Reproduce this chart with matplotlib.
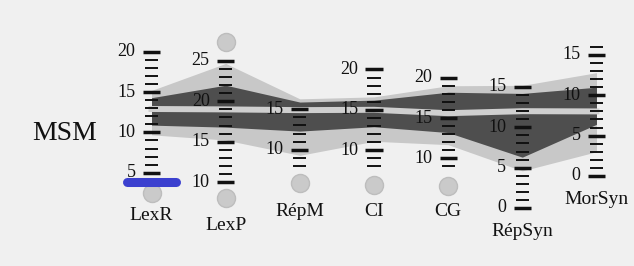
import matplotlib.pyplot as plt

tests = ['LexR', 'LexP', 'RépM', 'CI', 'CG', 'RépSyn', 'MorSyn']
# shift that puts each test's own scale onto the shared profile axis
offset = [0, -6.15, -2.14, -2.2, -3.22, 0.63, 4.6]
scale_lo = [5, 10, 8, 8, 9, 0, 0]
scale_hi = [20, 25, 15, 20, 20, 15, 16]

# norm bands, read in each test's own units
outer_hi = [15.2, 24.7, 16.3, 16.6, 19.0, 15.2, 12.8]
inner_hi = [14.3, 22.0, 15.9, 16.2, 18.2, 14.2, 11.0]
mean = [12.9, 19.0, 14.9, 15.0, 15.6, 12.0, 8.0]
inner_lo = [10.9, 16.8, 12.3, 12.9, 13.2, 6.3, 6.4]
outer_lo = [9.7, 15.2, 9.3, 11.1, 11.7, 4.6, 3.0]

# grey end markers (test, value)
marker_test = ['LexR', 'LexP', 'LexP', 'RépM', 'CI', 'CG']
marker_value = [2.5, 27.3, 8.0, 5.9, 5.7, 6.6]

# the child's score
score_test = 'LexR'
score_value = 3.9

# label heights in pixels from the top (staggered as in the scan)
label_px = [216, 226, 211, 211, 211, 231, 200]

W, H = 634, 266
plt.rcParams['font.family'] = ['Liberation Serif', 'DejaVu Serif']

fig = plt.figure(figsize=(W / 100, H / 100), dpi=100)
fig.patch.set_facecolor('#f0f0f0')
ax = fig.add_axes([0, 0, 1, 1])
ax.set_facecolor('#f0f0f0')
ax.set_xlim(-2.043, 6.506)
ax.set_ylim(-6.56, 26.41)
ax.axis('off')

x = list(range(len(tests)))
def common(vals):
    return [v + o for v, o in zip(vals, offset)]

ax.fill_between(x, common(outer_lo), common(outer_hi), color='#c8c8c8', lw=0, zorder=1)
ax.fill_between(x, common(inner_lo), common(inner_hi), color='#4e4e4e', lw=0, zorder=2)
ax.plot(x, common(mean), color='#cfcfcf', lw=4.3, zorder=3)

for i, name in enumerate(tests):
    for v in range(scale_lo[i], scale_hi[i] + 1):
        c = v + offset[i]
        if v % 5 == 0:
            ax.plot([i - 0.115, i + 0.115], [c, c], color='#111111', lw=2.5,
                    solid_capstyle='butt', zorder=5)
            ax.text(i - 0.215, c, str(v), ha='right', va='center',
                    fontsize=13, color='#111111', zorder=6)
        else:
            ax.plot([i - 0.088, i + 0.088], [c, c], color='#111111', lw=1.4,
                    solid_capstyle='butt', zorder=5)
    ax.text(i, 1 - label_px[i] / H, name, transform=ax.get_xaxis_transform(),
            ha='center', va='center', fontsize=14, color='#111111')

for t, v in zip(marker_test, marker_value):
    i = tests.index(t)
    ax.plot(i, v + offset[i], 'o', ms=13, color='#cacaca', mec='#bdbdbd', mew=1, zorder=4)

i = tests.index(score_test)
c = score_value + offset[i]
ax.plot([i - 0.33, i + 0.33], [c, c], color='#3b40cf', lw=6.5,
        solid_capstyle='round', zorder=8)

ax.text(65 / W, 1 - 134 / H, 'MSM', transform=ax.transAxes, ha='center',
        va='center', fontsize=20, color='#111111')

fig.savefig('out.png', dpi=100, facecolor=fig.get_facecolor())
